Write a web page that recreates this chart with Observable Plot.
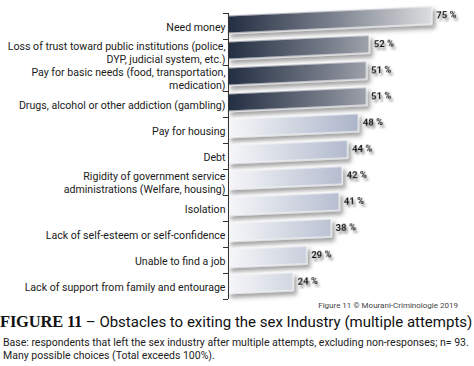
<!DOCTYPE html>
<html>
<head>
<meta charset="utf-8">
<script src="https://cdn.jsdelivr.net/npm/d3@7"></script>
<script src="https://cdn.jsdelivr.net/npm/@observablehq/plot@0.6"></script>
<style>
  html, body { margin: 0; padding: 0; background: #fff; }
  #wrap { position: relative; width: 474px; height: 366px; overflow: hidden; background: #fff; font-family: Roboto, "Noto Sans", sans-serif; color: #1a1a1a; }
  #chart { position: absolute; left: 0; top: 0; }
  #credit { position: absolute; right: 16px; top: 301px; font-size: 8px; color: #444; white-space: nowrap; }
  #title { position: absolute; left: 0; top: 312px; font-size: 15px; white-space: nowrap; color: #111; }
  #title b { font-family: "Liberation Serif", "DejaVu Serif", serif; font-weight: bold; font-size: 16.5px; letter-spacing: -0.2px; }
  #base { position: absolute; left: 3px; top: 336px; font-size: 10.5px; line-height: 13px; color: #222; white-space: nowrap; }
</style>
</head>
<body>
<div id="wrap">
  <div id="chart"></div>
  <div id="credit">Figure 11 © Mourani-Criminologie 2019</div>
  <div id="title"><b>FIGURE 11</b> – Obstacles to exiting the sex Industry (multiple attempts)</div>
  <div id="base">Base: respondents that left the sex industry after multiple attempts, excluding non-responses; n= 93.<br>Many possible choices (Total exceeds 100%).</div>
</div>
<script>
const categories = [
  "Need money",
  "Loss of trust toward public institutions (police,\nDYP, judicial system, etc.)",
  "Pay for basic needs (food, transportation,\nmedication)",
  "Drugs, alcohol or other addiction (gambling)",
  "Pay for housing",
  "Debt",
  "Rigidity of government service\nadministrations (Welfare, housing)",
  "Isolation",
  "Lack of self-esteem or self-confidence",
  "Unable to find a job",
  "Lack of support from family and entourage"
];
const values = [75, 52, 51, 51, 48, 44, 42, 41, 38, 29, 24];
const groups = ["dark", "dark", "dark", "dark", "light", "light", "light", "light", "light", "light", "light"];

const rows = categories.map((c, i) => ({label: c, value: values[i], group: groups[i]}));

const pxPerUnit = 231 / 85;

const svg = Plot.plot({
  width: 474,
  height: 312,
  marginLeft: 228,
  marginRight: 15,
  marginTop: 13,
  marginBottom: 13,
  style: {fontFamily: "Roboto, 'Noto Sans', sans-serif", background: "transparent"},
  x: {domain: [0, 85], axis: null},
  y: {domain: categories, padding: 0, axis: null},
  color: {domain: ["dark", "light"], range: ["url(#gDark)", "url(#gLight)"]},
  marks: [
    Plot.barX(rows, {x: "value", y: "label", fill: "group", insetTop: 4, insetBottom: 4, stroke: "#f3f4f7", strokeWidth: 1.2}),
    Plot.text(rows, {x: "value", y: "label", text: d => d.value + " %", textAnchor: "start", dx: 4, fontWeight: "bold", fontSize: 9.5, fill: "#111"}),
    Plot.text(rows, {x: 0, y: "label", text: "label", textAnchor: "end", dx: -3, fontSize: 10.6, lineHeight: 1.2, fill: "#1a1a1a"}),
    Plot.ruleX([0], {stroke: "#333", strokeWidth: 1}),
    Plot.ruleY(rows, {y: "label", x1: -5 / pxPerUnit, x2: 0, dy: -13, stroke: "#333"}),
    Plot.ruleY(rows.slice(-1), {y: "label", x1: -5 / pxPerUnit, x2: 0, dy: 13, stroke: "#333"})
  ]
});

const s = d3.select(svg);
const defs = s.insert("defs", ":first-child");
const gd = defs.append("linearGradient").attr("id", "gDark").attr("gradientUnits", "userSpaceOnUse")
  .attr("x1", 228).attr("x2", 436).attr("y1", 0).attr("y2", 0);
gd.append("stop").attr("offset", 0).attr("stop-color", "#232e42");
gd.append("stop").attr("offset", 0.5).attr("stop-color", "#7a808c");
gd.append("stop").attr("offset", 1).attr("stop-color", "#e0e1e3");
const gl = defs.append("linearGradient").attr("id", "gLight").attr("gradientUnits", "userSpaceOnUse")
  .attr("x1", 228).attr("x2", 366).attr("y1", 0).attr("y2", 0);
gl.append("stop").attr("offset", 0).attr("stop-color", "#f6f7f9");
gl.append("stop").attr("offset", 1).attr("stop-color", "#a7b0c6");
const fs = defs.append("filter").attr("id", "barShadow").attr("x", "-10%").attr("y", "-40%").attr("width", "130%").attr("height", "200%");
fs.append("feDropShadow").attr("dx", 3).attr("dy", 4).attr("stdDeviation", 2.2).attr("flood-color", "#555").attr("flood-opacity", 0.55);
const ft = defs.append("filter").attr("id", "txtShadow").attr("x", "-30%").attr("y", "-60%").attr("width", "180%").attr("height", "250%");
ft.append("feDropShadow").attr("dx", 2).attr("dy", 3).attr("stdDeviation", 1.3).attr("flood-color", "#555").attr("flood-opacity", 0.7);

const skew = "translate(228,-1.5) skewY(-2.6) translate(-228,0)";
const groupsSel = s.selectAll("g[aria-label='bar'], g[aria-label='text']").nodes();
const barG = d3.select(groupsSel[0]);
barG.attr("transform", skew + " " + (barG.attr("transform") || "")).attr("filter", "url(#barShadow)");
const valG = d3.select(groupsSel[1]);
valG.attr("transform", skew + " " + (valG.attr("transform") || "")).attr("filter", "url(#txtShadow)");

document.getElementById("chart").appendChild(svg);
</script>
</body>
</html>
